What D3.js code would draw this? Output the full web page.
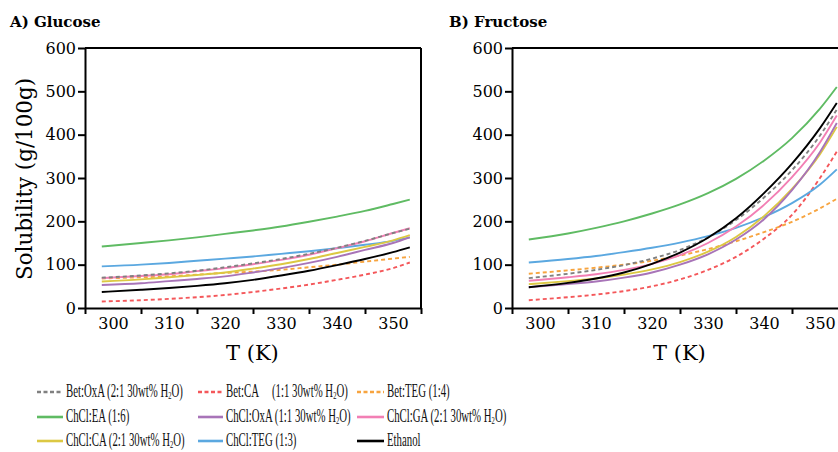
<!DOCTYPE html>
<html>
<head>
<meta charset="utf-8">
<script src="https://cdn.jsdelivr.net/npm/d3@7"></script>
<style>
  html, body { margin: 0; padding: 0; background: #fff; }
  svg { display: block; }
</style>
</head>
<body>
<svg id="chart" width="838" height="452"></svg>
<script>
// ---------- DATA ----------
const temps = [298, 305, 310, 315, 320, 325, 330, 335, 340, 345, 350, 353];

const seriesNames = [
  "Bet:OxA (2:1 30wt% H2O)", "Bet:CA (1:1 30wt% H2O)", "Bet:TEG (1:4)",
  "ChCl:EA (1:6)", "ChCl:OxA (1:1 30wt% H2O)", "ChCl:GA (2:1 30wt% H2O)",
  "ChCl:CA (2:1 30wt% H2O)", "ChCl:TEG (1:3)", "Ethanol"
];
const seriesColors = ["#808080", "#f4575a", "#f7a43f", "#5fbb63", "#a874b8", "#f27fb4", "#dcc843", "#5ba8e0", "#000000"];
const seriesDashed = [true, true, true, false, false, false, false, false, false];

// Glucose (g/100g)
const glucoseBetOxA  = [70, 75, 80, 86, 94, 103, 113, 125, 139, 155, 173, 183];
const glucoseBetCA   = [15, 18, 21, 25, 30, 37, 45, 54, 65, 77, 92, 105];
const glucoseBetTEG  = [68, 71, 73, 77, 81, 84, 88, 94, 100, 107, 114, 118];
const glucoseChClEA  = [142, 150, 156, 163, 171, 179, 188, 199, 211, 224, 240, 250];
const glucoseChClOxA = [53, 57, 62, 67, 73, 82, 92, 104, 118, 134, 150, 163];
const glucoseChClGA  = [69, 74, 78, 85, 92, 101, 111, 123, 138, 154, 173, 184];
const glucoseChClCA  = [61, 66, 71, 76, 82, 91, 101, 113, 127, 141, 156, 168];
const glucoseChClTEG = [96, 100, 104, 109, 114, 119, 125, 131, 138, 146, 155, 163];
const glucoseEthanol = [37, 42, 46, 51, 57, 65, 75, 86, 99, 113, 129, 140];

// Fructose (g/100g)
const fructoseBetOxA  = [69, 79, 88, 99, 114, 134, 163, 203, 255, 318, 398, 458];
const fructoseBetCA   = [18, 25, 31, 39, 50, 66, 88, 118, 160, 215, 300, 361];
const fructoseBetTEG  = [79, 87, 93, 100, 109, 121, 136, 154, 175, 199, 230, 252];
const fructoseChClEA  = [158, 172, 185, 200, 218, 239, 265, 298, 340, 392, 460, 510];
const fructoseChClOxA = [48, 55, 61, 70, 82, 100, 124, 158, 205, 272, 360, 427];
const fructoseChClGA  = [63, 71, 78, 88, 102, 122, 150, 188, 238, 302, 382, 444];
const fructoseChClCA  = [55, 62, 68, 77, 89, 106, 130, 164, 212, 275, 355, 418];
const fructoseChClTEG = [105, 113, 120, 129, 139, 151, 166, 185, 210, 242, 285, 320];
const fructoseEthanol = [48, 58, 68, 82, 102, 128, 162, 207, 265, 333, 415, 473];

const glucoseSeries = [glucoseBetOxA, glucoseBetCA, glucoseBetTEG, glucoseChClEA, glucoseChClOxA,
                       glucoseChClGA, glucoseChClCA, glucoseChClTEG, glucoseEthanol];
const fructoseSeries = [fructoseBetOxA, fructoseBetCA, fructoseBetTEG, fructoseChClEA, fructoseChClOxA,
                        fructoseChClGA, fructoseChClCA, fructoseChClTEG, fructoseEthanol];

const xTickMarks = [295, 305, 315, 325, 335, 345, 355];
const xTickLabels = [300, 310, 320, 330, 340, 350];
const yTicks = [0, 100, 200, 300, 400, 500, 600];

// draw order (back to front)
const drawOrder = [1, 2, 7, 3, 6, 4, 5, 0, 8];

// ---------- DRAW ----------
const svg = d3.select("#chart");
const serif = "'DejaVu Serif', serif";

function panel(left, right, data, title, titleX) {
  const top = 48, bottom = 308;
  const x = d3.scaleLinear().domain([295, 355]).range([left, right]);
  const y = d3.scaleLinear().domain([0, 600]).range([bottom, top]);
  const g = svg.append("g");

  const line = d3.line().x(d => x(d[0])).y(d => y(d[1])).curve(d3.curveMonotoneX);
  drawOrder.forEach(i => {
    g.append("path")
      .attr("d", line(temps.map((t, k) => [t, data[i][k]])))
      .attr("fill", "none")
      .attr("stroke", seriesColors[i])
      .attr("stroke-width", 1.9)
      .attr("stroke-dasharray", seriesDashed[i] ? "4,3" : null);
  });

  // frame (top & right)
  g.append("line").attr("x1", left).attr("x2", right).attr("y1", top).attr("y2", top)
    .attr("stroke", "#000").attr("stroke-width", 2);
  g.append("line").attr("x1", right).attr("x2", right).attr("y1", top).attr("y2", bottom)
    .attr("stroke", "#000").attr("stroke-width", 2);

  // x axis ticks
  const xa = g.append("g").attr("transform", `translate(0,${bottom})`)
    .call(d3.axisBottom(x).tickValues(xTickMarks).tickFormat("").tickSize(6).tickSizeOuter(0));
  xa.select(".domain").attr("stroke-width", 2);
  xa.selectAll(".tick line").attr("stroke-width", 2);
  // x labels
  const xl = g.append("g").attr("transform", `translate(0,${bottom})`)
    .call(d3.axisBottom(x).tickValues(xTickLabels).tickSize(0).tickPadding(10));
  xl.select(".domain").remove();
  xl.selectAll("text").attr("font-family", serif).attr("font-size", 16).attr("fill", "#000");

  // y axis
  const ya = g.append("g").attr("transform", `translate(${left},0)`)
    .call(d3.axisLeft(y).tickValues(yTicks).tickSize(7).tickPadding(2).tickSizeOuter(0));
  ya.select(".domain").attr("stroke-width", 2);
  ya.selectAll(".tick line").attr("stroke-width", 2);
  ya.selectAll("text").attr("font-family", serif).attr("font-size", 16).attr("fill", "#000");

  // x title
  g.append("text").attr("x", (x(295) + x(350.5)) / 2 + 12).attr("y", 360)
    .attr("text-anchor", "middle").attr("font-family", serif).attr("font-size", 21)
    .text("T (K)");

  // panel title
  g.append("text").attr("x", titleX).attr("y", 27)
    .attr("font-family", serif).attr("font-weight", "bold").attr("font-size", 15)
    .text(title);
}

panel(85, 421, glucoseSeries, "A) Glucose", 10);
panel(512, 848, fructoseSeries, "B) Fructose", 449);

// y title
svg.append("text")
  .attr("transform", "translate(32,179) rotate(-90)")
  .attr("text-anchor", "middle").attr("font-family", serif).attr("font-size", 22)
  .attr("textLength", 202).attr("lengthAdjust", "spacingAndGlyphs")
  .text("Solubility (g/100g)");

// ---------- LEGEND ----------
const legCols = [{lx: 37, tx: 66}, {lx: 198, tx: 226}, {lx: 357, tx: 387}];
const legRows = [392, 417, 441];
const legFont = "'Liberation Serif', serif";
const legScale = 0.6;

function addLabel(gt, label) {
  const t = gt.append("text").attr("font-family", legFont).attr("font-size", 18).attr("dy", "0.3em").attr("fill", "#111");
  const idx = label.indexOf("H2O");
  if (idx >= 0) {
    t.append("tspan").text(label.slice(0, idx + 1));
    t.append("tspan").attr("font-size", 11).attr("dy", "2").text("2");
    t.append("tspan").attr("dy", "-2").text(label.slice(idx + 2));
  } else {
    t.text(label);
  }
}

seriesNames.forEach((name, i) => {
  const col = legCols[i % 3], yy = legRows[Math.floor(i / 3)];
  svg.append("line")
    .attr("x1", col.lx).attr("x2", col.tx - 3).attr("y1", yy).attr("y2", yy)
    .attr("stroke", seriesColors[i]).attr("stroke-width", 2.6)
    .attr("stroke-dasharray", seriesDashed[i] ? "4,2.5" : null);
  if (name.startsWith("Bet:CA")) {
    const g1 = svg.append("g").attr("transform", `translate(${col.tx},${yy}) scale(${legScale},1)`);
    addLabel(g1, "Bet:CA");
    const g2 = svg.append("g").attr("transform", `translate(272,${yy}) scale(${legScale},1)`);
    addLabel(g2, name.slice(7));
  } else {
    const g = svg.append("g").attr("transform", `translate(${col.tx},${yy}) scale(${legScale},1)`);
    addLabel(g, name);
  }
});
</script>
</body>
</html>
